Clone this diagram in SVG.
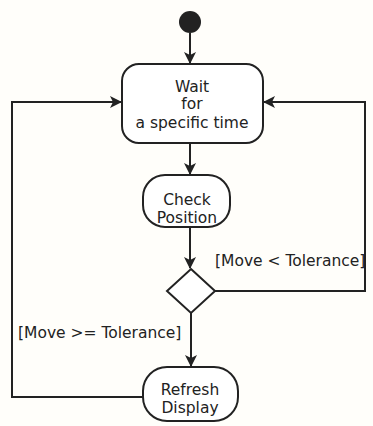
<svg xmlns="http://www.w3.org/2000/svg" width="373" height="426" viewBox="0 0 373 426">
<style>
.n{fill:#fff;stroke:#222;stroke-width:2}
.c{fill:none;stroke:#222;stroke-width:2}
text{font-family:"DejaVu Sans",sans-serif;font-size:15.5px;fill:#222;text-anchor:middle}
.l{text-anchor:start}
</style>
<defs>
<marker id="a" markerWidth="12" markerHeight="12" refX="11" refY="6" orient="auto" markerUnits="userSpaceOnUse">
<path d="M0,0 L12,6 L0,12 L3,6 Z" fill="#222"/>
</marker>
</defs>
<rect width="373" height="426" fill="#fffefa"/>
<g id="connectors">
<path class="c" d="M190,33 V63" marker-end="url(#a)"/>
<path class="c" d="M190,143 V174" marker-end="url(#a)"/>
<path class="c" d="M190,227 V268" marker-end="url(#a)"/>
<path class="c" d="M191,313 V366" marker-end="url(#a)"/>
<path class="c" d="M215,291 H365 V102 H264" marker-end="url(#a)"/>
<path class="c" d="M143,397 H12 V102 H121" marker-end="url(#a)"/>
<text class="l" x="215" y="266">[Move &lt; Tolerance]</text>
<text class="l" x="18" y="338">[Move &gt;= Tolerance]</text>
</g>
<g id="start"><circle cx="190" cy="22" r="11" fill="#222"/></g>
<g id="wait">
<rect class="n" x="122" y="64" width="141" height="79" rx="17"/>
<text x="192" y="92">Wait</text>
<text x="192" y="109">for</text>
<text x="192" y="128">a specific time</text>
</g>
<g id="check">
<rect class="n" x="143" y="175" width="87" height="52" rx="22"/>
<text x="187" y="205">Check</text>
<text x="187" y="223">Position</text>
</g>
<g id="decision"><path class="n" d="M191,269 L215,291 L191,313 L167,291 Z"/></g>
<g id="refresh">
<rect class="n" x="143" y="367" width="95" height="54" rx="24"/>
<text x="190" y="395">Refresh</text>
<text x="190" y="413">Display</text>
</g>
</svg>
